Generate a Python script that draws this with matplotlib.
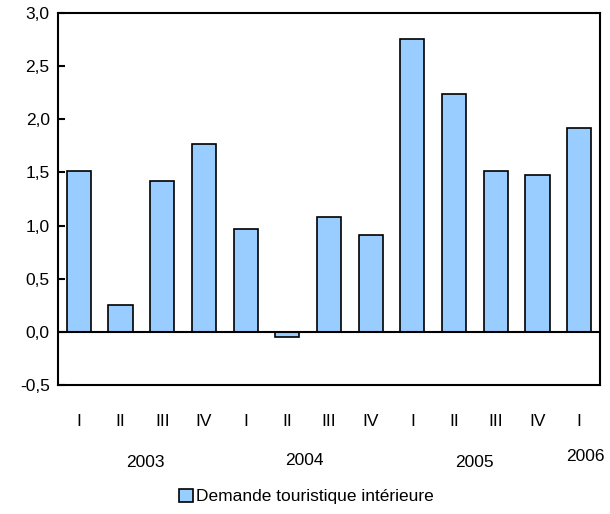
import matplotlib.pyplot as plt
import numpy as np

plt.rcParams["font.family"] = ["Liberation Sans", "DejaVu Sans"]

quarters = ["I", "II", "III", "IV", "I", "II", "III", "IV", "I", "II", "III", "IV", "I"]
values = [1.51, 0.25, 1.42, 1.77, 0.97, -0.05, 1.08, 0.91, 2.76, 2.24, 1.51, 1.48, 1.92]
years = ["2003", "2004", "2005", "2006"]
year_pos = [1.6, 5.42, 9.5, 12.15]
year_y = [-1.23, -1.21, -1.23, -1.17]
y_ticks = [-0.5, 0.0, 0.5, 1.0, 1.5, 2.0, 2.5, 3.0]

fig = plt.figure(figsize=(6.1, 5.14), dpi=100)
ax = fig.add_axes([58 / 610, 1 - 385 / 514, 542 / 610, 372 / 514])

x = np.arange(len(values))
ax.bar(x, values, width=0.58, color="#99ccff", edgecolor="black", linewidth=1.2,
       label="Demande touristique intérieure", zorder=2)
ax.axhline(0, color="black", lw=1.5, zorder=3)

ax.set_xlim(-0.5, len(values) - 0.5)
ax.set_ylim(-0.5, 3.0)
ax.set_yticks(y_ticks)
ax.set_yticklabels([f"{t:.1f}".replace(".", ",") for t in y_ticks], fontsize=12.5)
ax.tick_params(axis="y", direction="in", length=5, width=1.5, pad=6)

ax.set_xticks(x)
ax.set_xticklabels(quarters, fontsize=12.5)
ax.tick_params(axis="x", length=0, pad=21)

for s in ax.spines.values():
    s.set_linewidth(1.5)

for yr, xp, yp in zip(years, year_pos, year_y):
    ax.text(xp, yp, yr, fontsize=12.5, ha="center", va="center", clip_on=False)

ax.legend(loc="center", bbox_to_anchor=(0.458, -0.30), frameon=False,
          fontsize=12.5, handlelength=0.8, handleheight=0.8, handletextpad=0.2)

fig.savefig("out.png", dpi=100)
